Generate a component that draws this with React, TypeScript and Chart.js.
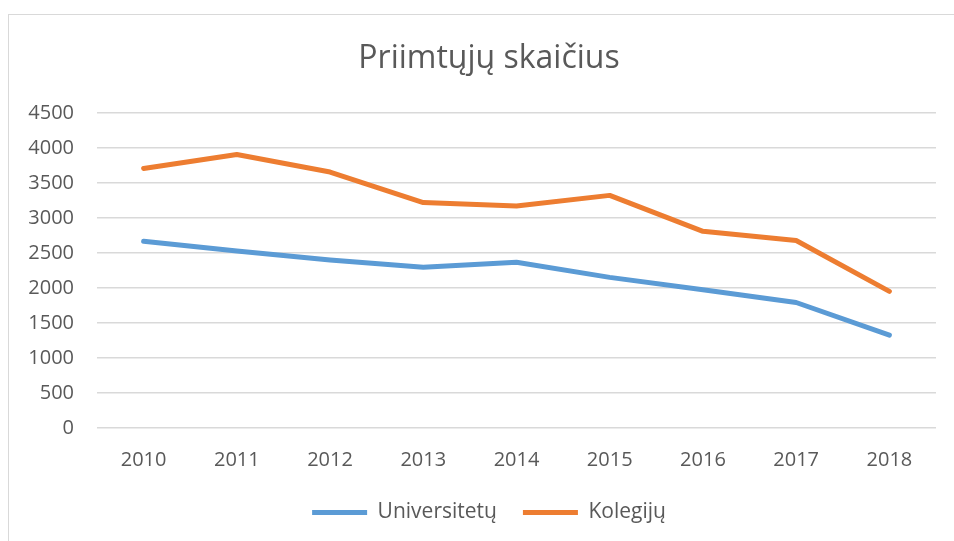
import React, { useEffect, useRef } from "react";
import { Chart, registerables } from "chart.js";

Chart.register(...registerables);

const years = ["2010", "2011", "2012", "2013", "2014", "2015", "2016", "2017", "2018"];
const universitetu = [2668, 2528, 2400, 2296, 2367, 2152, 1974, 1793, 1326];
const kolegiju = [3708, 3908, 3657, 3220, 3170, 3323, 2810, 2679, 1952];
const seriesNames = ["Universitetų", "Kolegijų"];
const titleText = "Priimtųjų skaičius";

const FONT = "'Open Sans', 'DejaVu Sans', sans-serif";
const TEXT = "#595959";
const GRID = "#d9d9d9";

export default function App() {
  const ref = useRef<HTMLCanvasElement | null>(null);

  useEffect(() => {
    if (!ref.current) return;
    const chart = new Chart(ref.current, {
      type: "line",
      data: {
        labels: years,
        datasets: [
          {
            label: seriesNames[0],
            data: universitetu,
            borderColor: "#5B9BD5",
            backgroundColor: "#5B9BD5",
            borderWidth: 5,
            borderCapStyle: "round",
            borderJoinStyle: "round",
            pointRadius: 0,
            tension: 0,
          },
          {
            label: seriesNames[1],
            data: kolegiju,
            borderColor: "#ED7D31",
            backgroundColor: "#ED7D31",
            borderWidth: 5,
            borderCapStyle: "round",
            borderJoinStyle: "round",
            pointRadius: 0,
            tension: 0,
          },
        ],
      },
      options: {
        animation: false,
        responsive: false,
        maintainAspectRatio: false,
        layout: { padding: { left: 42, right: 18, top: 40, bottom: 8 } },
        plugins: {
          title: {
            display: true,
            text: titleText,
            color: TEXT,
            font: { family: FONT, size: 32, weight: "normal" },
            padding: { top: 0, bottom: 34.6 },
          },
          legend: {
            position: "bottom",
            labels: {
              color: TEXT,
              font: { family: FONT, size: 21 },
              usePointStyle: true,
              pointStyle: "line",
              pointStyleWidth: 55,
              boxWidth: 55,
              boxHeight: 19,
              padding: 26,
            },
          },
          tooltip: { enabled: false },
        },
        scales: {
          x: {
            grid: { display: false, drawTicks: false },
            border: { display: false },
            offset: true,
            ticks: {
              color: TEXT,
              font: { family: FONT, size: 20 },
              padding: 20,
              maxRotation: 0,
            },
            afterFit: (scale: any) => {
              scale.height = 48;
            },
          },
          y: {
            min: 0,
            max: 4500,
            grid: { color: GRID, lineWidth: 1.5, drawTicks: false },
            border: { display: false },
            ticks: {
              stepSize: 500,
              color: TEXT,
              font: { family: FONT, size: 20 },
              padding: 23,
              callback: (v: any) => String(v),
            },
            afterFit: (scale: any) => {
              scale.width = 55;
              scale._computeLabelArea = () => undefined;
            },
          },
        },
      },
    });
    return () => chart.destroy();
  }, []);

  return (
    <div style={{ position: "absolute", left: 0, top: 0, width: 954, height: 541, background: "#fff", overflow: "hidden" }}>
      <div
        style={{
          position: "absolute",
          left: 8,
          top: 14,
          width: 960,
          height: 560,
          borderLeft: `1.5px solid ${GRID}`,
          borderTop: `1.5px solid ${GRID}`,
        }}
      />
      <canvas ref={ref} width={954} height={541} style={{ position: "absolute", left: 0, top: 0 }} />
    </div>
  );
}
